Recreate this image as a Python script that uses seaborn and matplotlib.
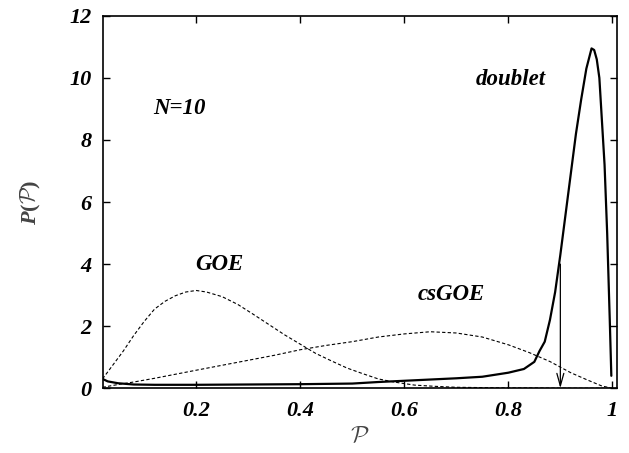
import numpy as np
import pandas as pd
import seaborn as sns
import matplotlib
matplotlib.use("Agg")
from matplotlib import pyplot as plt

# values
goe_x = [0.02, 0.04, 0.06, 0.08, 0.10, 0.12, 0.14, 0.16, 0.18, 0.20, 0.22, 0.25,
         0.28, 0.31, 0.34, 0.37, 0.40, 0.43, 0.46, 0.49, 0.52, 0.55, 0.58, 0.62,
         0.66, 0.70, 0.75, 0.80, 0.85, 0.90, 0.95, 1.0]
goe_y = [0.3, 0.75, 1.2, 1.7, 2.15, 2.55, 2.8, 2.98, 3.1, 3.15, 3.1, 2.95,
         2.7, 2.38, 2.05, 1.72, 1.42, 1.12, 0.88, 0.65, 0.47, 0.3, 0.2, 0.1,
         0.06, 0.03, 0.02, 0.01, 0.01, 0.0, 0.0, 0.0]

csgoe_x = [0.02, 0.05, 0.08, 0.12, 0.16, 0.20, 0.25, 0.30, 0.35, 0.40, 0.45, 0.50,
           0.55, 0.60, 0.65, 0.70, 0.75, 0.80, 0.84, 0.88, 0.92, 0.95, 0.98, 1.0]
csgoe_y = [0.03, 0.12, 0.2, 0.32, 0.45, 0.58, 0.74, 0.9, 1.06, 1.24, 1.38, 1.5,
           1.65, 1.75, 1.82, 1.78, 1.65, 1.4, 1.15, 0.86, 0.5, 0.28, 0.07, 0.0]

doublet_x = [0.02, 0.03, 0.05, 0.08, 0.12, 0.2, 0.3, 0.4, 0.5, 0.55, 0.6, 0.65,
             0.7, 0.75, 0.8, 0.83, 0.85, 0.86, 0.87, 0.88, 0.89, 0.9, 0.91, 0.92,
             0.93, 0.94, 0.95, 0.96, 0.965, 0.97, 0.975, 0.98, 0.985, 0.99, 0.995, 0.998]
doublet_y = [0.3, 0.22, 0.16, 0.12, 0.11, 0.11, 0.12, 0.13, 0.15, 0.2, 0.24, 0.28,
             0.32, 0.37, 0.5, 0.62, 0.85, 1.2, 1.5, 2.2, 3.1, 4.3, 5.6, 6.9,
             8.2, 9.3, 10.3, 10.95, 10.9, 10.6, 10.0, 8.6, 7.2, 5.0, 2.2, 0.4]

arrow_x = 0.9
arrow_top = 4.0

x_ticks = [0.2, 0.4, 0.6, 0.8, 1.0]
x_tick_labels = ["0.2", "0.4", "0.6", "0.8", "1"]
y_ticks = [0, 2, 4, 6, 8, 10, 12]

sns.set_style("ticks", {"axes.edgecolor": "black", "text.color": "black",
                        "xtick.color": "black", "ytick.color": "black"})
plt.rcParams["font.family"] = ["Liberation Serif", "DejaVu Serif"]
# bold italic math letters, calligraphic P from computer modern
plt.rcParams["mathtext.fontset"] = "custom"
plt.rcParams["mathtext.it"] = "Liberation Serif:bold:italic"
plt.rcParams["mathtext.rm"] = "Liberation Serif:bold"
plt.rcParams["mathtext.cal"] = "cmsy10"

fig = plt.figure(figsize=(6.29, 4.53), dpi=100)
ax = fig.add_axes([0.163, 0.143, 0.818, 0.822])

goe = pd.DataFrame({"x": goe_x, "y": goe_y})
csgoe = pd.DataFrame({"x": csgoe_x, "y": csgoe_y})
doublet = pd.DataFrame({"x": doublet_x, "y": doublet_y})

sns.lineplot(data=goe, x="x", y="y", ax=ax, color="black", lw=0.8,
             linestyle=(0, (3, 2)), estimator=None, sort=False)
sns.lineplot(data=csgoe, x="x", y="y", ax=ax, color="black", lw=0.8,
             linestyle=(0, (3, 2)), estimator=None, sort=False)
sns.lineplot(data=doublet, x="x", y="y", ax=ax, color="black", lw=1.6,
             estimator=None, sort=False)

# arrow marking the doublet position
ax.annotate("", xy=(arrow_x, 0), xytext=(arrow_x, arrow_top),
            arrowprops=dict(arrowstyle="->,head_length=0.9,head_width=0.25",
                            lw=0.9, color="black", shrinkA=0, shrinkB=0))

ax.set_xlim(0.02, 1.009)
ax.set_ylim(0, 12)
ax.set_xticks(x_ticks)
ax.set_xticklabels(x_tick_labels)
ax.set_yticks(y_ticks)

ax.tick_params(direction="in", length=5, width=1, top=True, right=True,
               labelsize=16, pad=9, colors="black")
ax.tick_params(axis="y", pad=8)
for lab in ax.get_xticklabels() + ax.get_yticklabels():
    lab.set_fontweight("bold")
    lab.set_fontstyle("italic")

for sp in ax.spines.values():
    sp.set_visible(True)
    sp.set_linewidth(1.2)
    sp.set_color("black")

ax.set_xlabel(r"$\mathcal{P}$", fontsize=17, color="#444444", labelpad=4)
ax.set_ylabel(r"$P(\mathcal{P})$", fontsize=16, color="#444444", labelpad=19)

txt = dict(fontsize=16.5, fontweight="bold", fontstyle="italic", ha="center",
           va="center", color="black")
ax.text(0.167, 9.0, "N=10", **txt)
ax.text(0.805, 9.95, "doublet", **txt)
ax.text(0.244, 3.98, "GOE", **txt)
ax.text(0.69, 3.01, "csGOE", **txt)

fig.savefig("out.png", dpi=100)
